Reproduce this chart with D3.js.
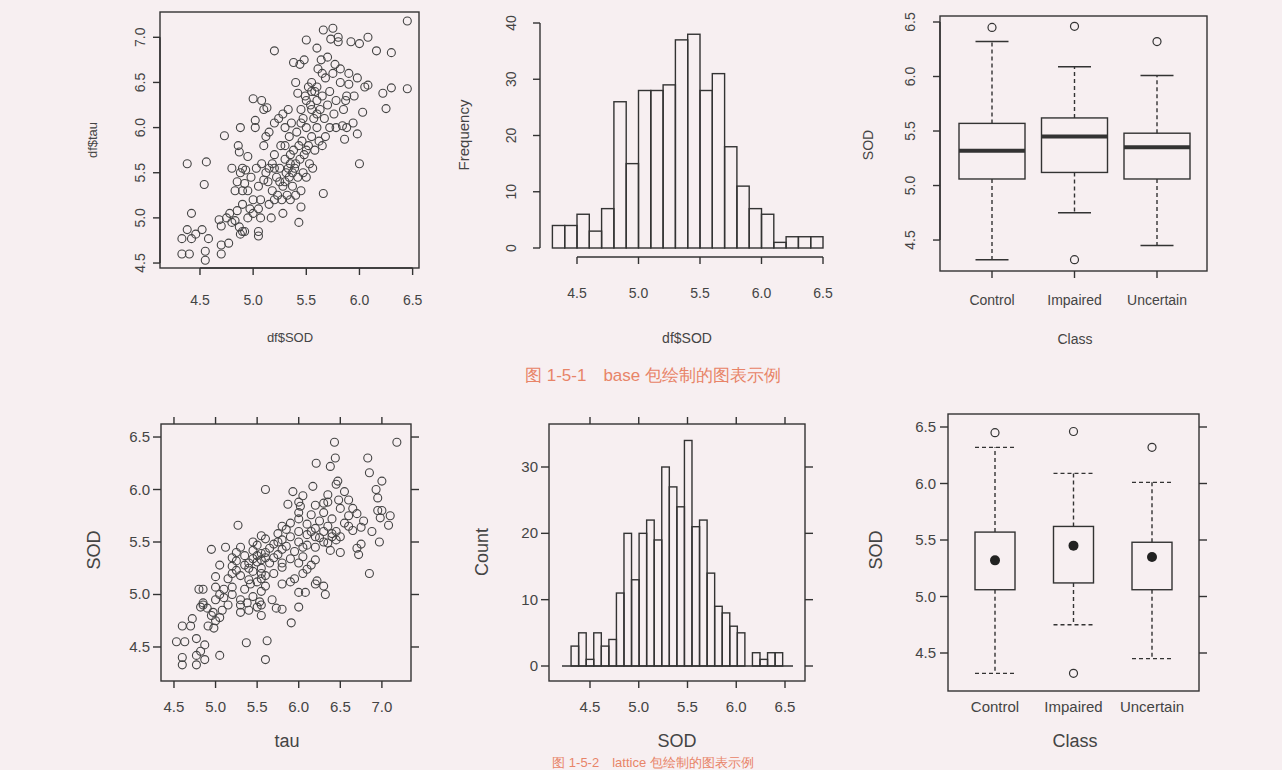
<!DOCTYPE html>
<html><head><meta charset="utf-8">
<script src="https://cdn.jsdelivr.net/npm/d3@7"></script>
<style>body{margin:0;background:#f7eff1;}svg{display:block;}text{font-family:"Liberation Sans",Arial,sans-serif;fill:#444;}</style>
</head><body>
<script>
// (SOD, tau) pairs
const sodTau = [[4.33,4.6],[4.33,4.77],[4.4,4.6],[4.38,4.87],[4.42,4.77],[4.42,5.05],[4.46,4.82],[4.52,4.87],[4.55,4.63],[4.55,4.53],[4.58,4.77],[4.38,5.6],[4.54,5.37],[4.56,5.62],[4.68,4.98],[4.7,4.7],[4.7,4.6],[4.7,4.91],[4.77,4.72],[4.75,5.0],[4.73,5.91],[4.8,4.95],[4.78,5.05],[4.8,5.55],[4.83,5.3],[4.85,5.08],[4.86,5.8],[4.88,6.0],[4.87,5.73],[4.88,5.5],[4.9,5.3],[4.88,4.82],[4.9,4.85],[4.92,4.85],[4.9,5.15],[4.92,5.38],[4.93,5.53],[4.95,5.68],[4.95,5.0],[4.97,5.1],[4.98,5.45],[5.0,5.05],[5.0,6.32],[5.02,6.0],[5.02,6.08],[5.03,5.55],[5.05,4.8],[5.05,4.85],[5.05,5.35],[5.07,5.0],[5.07,5.2],[5.08,5.6],[5.08,6.3],[5.1,6.2],[5.1,5.8],[5.12,5.9],[5.12,5.5],[5.13,6.22],[5.14,5.4],[5.15,5.15],[5.15,5.95],[5.17,5.0],[5.18,5.3],[5.18,5.6],[5.2,6.85],[5.2,5.7],[5.2,6.05],[5.22,5.45],[5.23,5.25],[5.24,6.1],[5.25,5.55],[5.26,5.8],[5.27,5.2],[5.28,6.15],[5.28,5.35],[5.3,5.65],[5.3,6.0],[5.31,5.5],[5.32,5.25],[5.33,6.2],[5.34,5.9],[5.34,5.45],[5.35,5.6],[5.36,6.05],[5.37,5.35],[5.38,5.75],[5.38,6.72],[5.39,5.55],[5.4,5.25],[5.4,6.5],[5.41,5.95],[5.42,5.45],[5.42,6.38],[5.43,4.95],[5.44,5.65],[5.44,6.7],[5.45,5.12],[5.45,6.2],[5.46,5.85],[5.47,5.5],[5.47,6.1],[5.48,6.75],[5.48,5.7],[5.49,6.35],[5.5,5.45],[5.5,6.0],[5.5,6.97],[5.52,5.8],[5.52,6.45],[5.53,5.6],[5.54,6.25],[5.55,5.9],[5.55,6.5],[5.56,5.55],[5.57,6.1],[5.58,6.4],[5.58,5.75],[5.6,6.88],[5.6,6.0],[5.6,6.3],[5.61,6.65],[5.62,5.85],[5.63,6.2],[5.64,6.75],[5.65,5.8],[5.65,6.35],[5.66,5.27],[5.66,7.08],[5.67,6.1],[5.68,6.55],[5.68,5.9],[5.7,6.78],[5.7,6.25],[5.72,6.4],[5.72,6.0],[5.73,6.98],[5.75,6.6],[5.75,7.1],[5.76,6.15],[5.77,6.7],[5.78,6.3],[5.78,6.0],[5.8,6.95],[5.8,7.0],[5.82,6.5],[5.82,6.65],[5.84,6.02],[5.85,6.2],[5.86,5.87],[5.87,6.3],[5.88,6.35],[5.88,6.0],[5.9,6.6],[5.9,6.48],[5.92,6.95],[5.94,6.05],[5.95,6.35],[5.98,5.93],[5.98,6.55],[6.0,6.93],[6.0,5.6],[6.03,6.17],[6.05,6.45],[6.08,7.0],[6.08,6.47],[6.16,6.85],[6.22,6.38],[6.25,6.21],[6.3,6.83],[6.3,6.44],[6.45,6.43],[6.45,7.18],[5.1,5.42],[5.15,5.55],[5.2,5.2],[5.25,5.4],[5.28,5.05],[5.3,5.4],[5.33,5.55],[5.35,5.2],[5.37,5.5],[5.4,5.6],[5.43,5.8],[5.45,5.3],[5.5,5.75],[5.55,6.2],[5.45,6.05],[5.5,6.3],[5.6,6.45],[5.55,6.4],[5.65,6.6],[5.6,6.15],[5.35,5.7],[5.3,5.8],[5.2,5.55],[4.95,5.3],[4.85,5.4],[4.9,5.55],[5.0,5.2],[5.05,5.1],[4.83,4.97],[4.87,4.9]];

const hist1Start = 4.3, hist1Width = 0.1;
const hist1Counts = [4,4,6,3,7,26,15,28,28,29,37,38,28,31,18,11,7,6,1,2,2,2];
const hist2Start = 4.306, hist2Width = 0.0775;
const hist2Counts = [3,5,1,5,3,4,11,20,13,20,22,19,30,27,24,34,21,22,14,9,8,6,5,0,2,1,2,2];

const classes = ["Control","Impaired","Uncertain"];
const boxStats = [
  {lo:4.32,q1:5.06,med:5.32,q3:5.57,hi:6.32,out:[6.45]},
  {lo:4.75,q1:5.12,med:5.45,q3:5.62,hi:6.09,out:[6.46,4.32]},
  {lo:4.45,q1:5.06,med:5.35,q3:5.48,hi:6.01,out:[6.32]}
];
const ticksA = [4.5,5.0,5.5,6.0,6.5];
const ticksTau = [4.5,5.0,5.5,6.0,6.5,7.0];
const ticksCount1 = [0,10,20,30,40];
const ticksCount2 = [0,10,20,30];
const caption1 = "图 1-5-1　base 包绘制的图表示例";
const caption2 = "图 1-5-2　lattice 包绘制的图表示例";

const svg = d3.select("body").append("svg").attr("width",1282).attr("height",770);
const C="#333";
const f1=d3.format(".1f");
function txt(x,y,s,size,rot,anchor){const t=svg.append("text").attr("x",x).attr("y",y).attr("font-size",size).attr("text-anchor",anchor||"middle").text(s);if(rot)t.attr("transform",`rotate(${rot},${x},${y})`);return t;}
function rect(x0,y0,x1,y1){svg.append("rect").attr("x",x0).attr("y",y0).attr("width",x1-x0).attr("height",y1-y0).attr("fill","none").attr("stroke",C).attr("stroke-width",1.4);}
function baseX(sc,ticks,y,labY){svg.append("line").attr("x1",sc(ticks[0])).attr("x2",sc(ticks[ticks.length-1])).attr("y1",y).attr("y2",y).attr("stroke",C).attr("stroke-width",1.4);
 ticks.forEach(t=>{svg.append("line").attr("x1",sc(t)).attr("x2",sc(t)).attr("y1",y).attr("y2",y+7).attr("stroke",C).attr("stroke-width",1.4);txt(sc(t),labY,f1(t),14);});}
function baseY(sc,ticks,x,labX,fmt){svg.append("line").attr("y1",sc(ticks[0])).attr("y2",sc(ticks[ticks.length-1])).attr("x1",x).attr("x2",x).attr("stroke",C).attr("stroke-width",1.4);
 ticks.forEach(t=>{svg.append("line").attr("y1",sc(t)).attr("y2",sc(t)).attr("x1",x).attr("x2",x-7).attr("stroke",C).attr("stroke-width",1.4);txt(labX,sc(t),fmt(t),14,-90).attr("dominant-baseline","middle");});}
function latX(sc,ticks,y0,y1,labY){ticks.forEach(t=>{[[y1,y1+7],[y0,y0-7]].forEach(([a,b])=>svg.append("line").attr("x1",sc(t)).attr("x2",sc(t)).attr("y1",a).attr("y2",b).attr("stroke",C).attr("stroke-width",1.4));txt(sc(t),labY,f1(t),15);});}
function latY(sc,ticks,x0,x1,labX,fmt){ticks.forEach(t=>{[[x0,x0-8],[x1,x1+8]].forEach(([a,b])=>svg.append("line").attr("y1",sc(t)).attr("y2",sc(t)).attr("x1",a).attr("x2",b).attr("stroke",C).attr("stroke-width",1.4));txt(labX,sc(t)+5,fmt(t),15,0,"end");});}

{const x=d3.scaleLinear().domain([4.124,6.56]).range([160,419]);const y=d3.scaleLinear().domain([4.445,7.28]).range([268,12]);
 svg.append("g").selectAll("circle").data(sodTau).join("circle").attr("cx",d=>x(d[0])).attr("cy",d=>y(d[1])).attr("r",4).attr("fill","none").attr("stroke","#444").attr("stroke-width",1.1);
 rect(160,12,419,268);baseX(x,ticksA,268,305);baseY(y,[4.5,5.0,5.5,6.0,6.5,7.0],160,141,f1);
 txt(290,342,"df$SOD",13);txt(97,140,"df$tau",13,-90);}
{const x=d3.scaleLinear().domain([4.5,6.5]).range([577,823]);const y=d3.scaleLinear().domain([0,40]).range([248,23]);
 svg.append("g").selectAll("rect").data(hist1Counts).join("rect").attr("x",(d,i)=>x(hist1Start+i*hist1Width)).attr("width",x(hist1Start+hist1Width)-x(hist1Start)).attr("y",d=>y(d)).attr("height",d=>y(0)-y(d)).attr("fill","none").attr("stroke",C).attr("stroke-width",1.4);
 baseX(x,ticksA,257,298);baseY(y,ticksCount1,540,512,d3.format("d"));
 txt(687,343,"df$SOD",14);txt(469,135,"Frequency",15,-90);
 txt(653,381,caption1,17).style("fill","#e88468").attr("font-family","'Noto Sans CJK SC',sans-serif");}
{const x=d3.scalePoint().domain(classes).range([992,1157]);const y=d3.scaleLinear().domain([4.216,6.555]).range([271,16]);const hw=33;
 boxStats.forEach((s,i)=>{const cx=x(classes[i]);
  [[s.q3,s.hi],[s.q1,s.lo]].forEach(([a,b])=>svg.append("line").attr("x1",cx).attr("x2",cx).attr("y1",y(a)).attr("y2",y(b)).attr("stroke",C).attr("stroke-width",1.4).attr("stroke-dasharray","4,3"));
  [s.hi,s.lo].forEach(v=>svg.append("line").attr("x1",cx-hw/2).attr("x2",cx+hw/2).attr("y1",y(v)).attr("y2",y(v)).attr("stroke",C).attr("stroke-width",1.5));
  svg.append("rect").attr("x",cx-hw).attr("width",2*hw).attr("y",y(s.q3)).attr("height",y(s.q1)-y(s.q3)).attr("fill","none").attr("stroke",C).attr("stroke-width",1.4);
  svg.append("line").attr("x1",cx-hw).attr("x2",cx+hw).attr("y1",y(s.med)).attr("y2",y(s.med)).attr("stroke","#333").attr("stroke-width",4);
  s.out.forEach(o=>svg.append("circle").attr("cx",cx).attr("cy",y(o)).attr("r",4).attr("fill","none").attr("stroke",C).attr("stroke-width",1.2));
  svg.append("line").attr("x1",cx).attr("x2",cx).attr("y1",271).attr("y2",278).attr("stroke",C).attr("stroke-width",1.4);
  txt(cx,305,classes[i],14);});
 rect(940,16,1207,271);baseY(y,ticksA,940,911,f1);
 txt(1075,344,"Class",14);txt(873,145,"SOD",14,-90);}
{const x=d3.scaleLinear().domain([4.344,7.35]).range([161,411]);const y=d3.scaleLinear().domain([4.176,6.624]).range([681,424]);
 svg.append("g").selectAll("circle").data(sodTau).join("circle").attr("cx",d=>x(d[1])).attr("cy",d=>y(d[0])).attr("r",4).attr("fill","none").attr("stroke","#444").attr("stroke-width",1.1);
 rect(161,424,411,681);latX(x,ticksTau,424,681,712);latY(y,ticksA,161,411,150,f1);
 txt(287,747,"tau",18);txt(100,550,"SOD",18,-90);}
{const x=d3.scaleLinear().domain([4.5,6.5]).range([590,785]);const y=d3.scaleLinear().domain([0,30]).range([666,467]);
 svg.append("line").attr("x1",562).attr("x2",793).attr("y1",y(0)).attr("y2",y(0)).attr("stroke",C).attr("stroke-width",1.4);
 svg.append("g").selectAll("rect").data(hist2Counts).join("rect").attr("x",(d,i)=>x(hist2Start+i*hist2Width)).attr("width",x(hist2Start+hist2Width)-x(hist2Start)).attr("y",d=>y(d)).attr("height",d=>y(0)-y(d)).attr("fill","none").attr("stroke",C).attr("stroke-width",1.4);
 rect(549,424,805,681);latX(x,ticksA,424,681,712);latY(y,ticksCount2,549,805,538,d3.format("d"));
 txt(677,747,"SOD",18);txt(488,552,"Count",18,-90);
 txt(653,767,caption2,13).style("fill","#e88468").attr("font-family","'Noto Sans CJK SC',sans-serif");}
{const x=d3.scalePoint().domain(classes).range([995,1152]);const y=d3.scaleLinear().domain([4.5-(691-653)/113,6.5+(427-414)/113]).range([691,414]);const hw=20;
 boxStats.forEach((s,i)=>{const cx=x(classes[i]);
  [[s.q3,s.hi],[s.q1,s.lo]].forEach(([a,b])=>svg.append("line").attr("x1",cx).attr("x2",cx).attr("y1",y(a)).attr("y2",y(b)).attr("stroke",C).attr("stroke-width",1.4).attr("stroke-dasharray","4,3"));
  [s.hi,s.lo].forEach(v=>svg.append("line").attr("x1",cx-hw).attr("x2",cx+hw).attr("y1",y(v)).attr("y2",y(v)).attr("stroke",C).attr("stroke-width",1.4).attr("stroke-dasharray","4,3"));
  svg.append("rect").attr("x",cx-hw).attr("width",2*hw).attr("y",y(s.q3)).attr("height",y(s.q1)-y(s.q3)).attr("fill","none").attr("stroke",C).attr("stroke-width",1.4);
  svg.append("circle").attr("cx",cx).attr("cy",y(s.med)).attr("r",5).attr("fill","#222");
  s.out.forEach(o=>svg.append("circle").attr("cx",cx).attr("cy",y(o)).attr("r",4).attr("fill","none").attr("stroke",C).attr("stroke-width",1.2));
  txt(cx,712,classes[i],15);});
 rect(948,414,1199,691);latY(y,ticksA,948,1199,936,f1);
 txt(1075,747,"Class",18);txt(882,550,"SOD",18,-90);}
</script>
</body></html>
